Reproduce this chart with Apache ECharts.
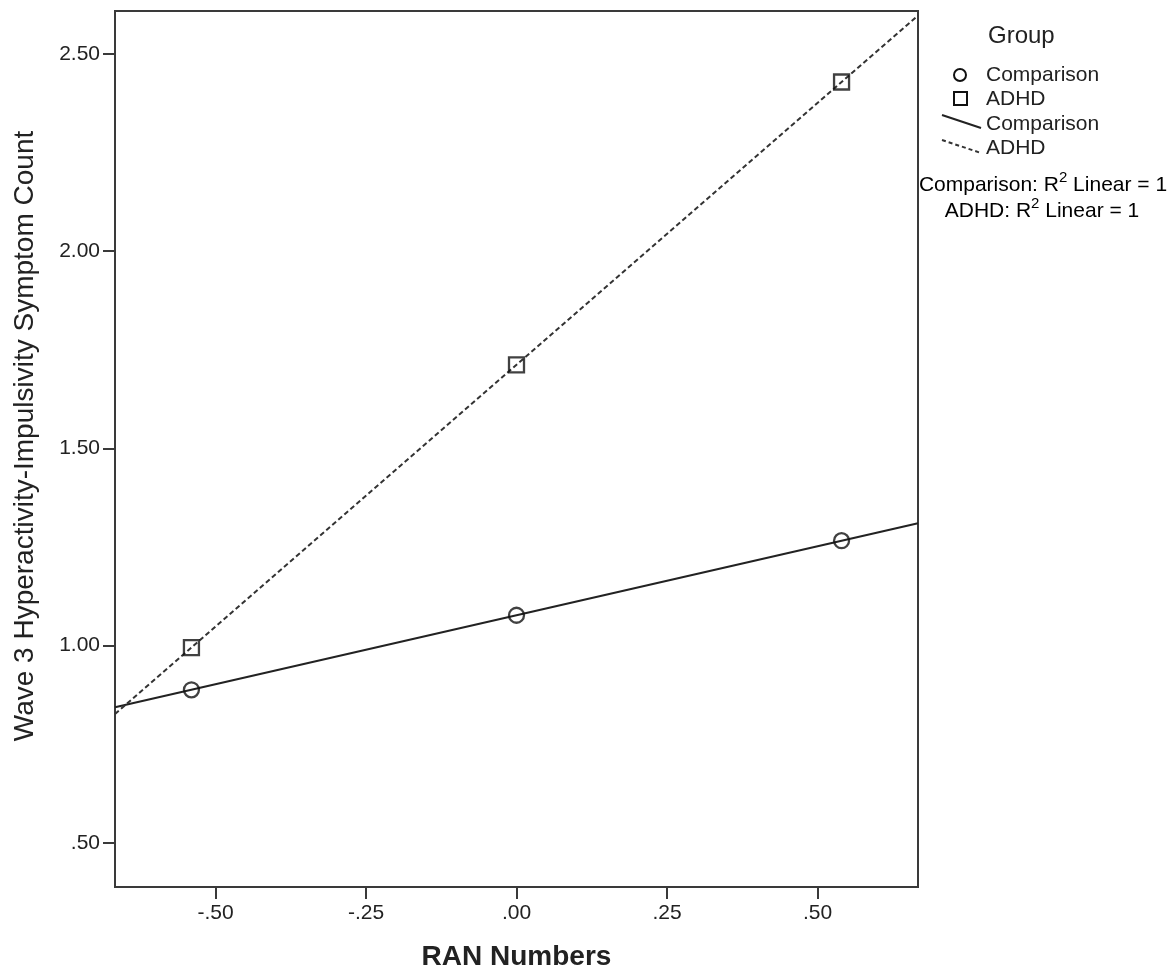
<!DOCTYPE html>
<html>
<head>
<meta charset="utf-8">
<script src="https://cdn.jsdelivr.net/npm/echarts@6/dist/echarts.min.js"></script>
<style>
  html, body { margin: 0; padding: 0; background: #fff; }
  #chart { width: 1172px; height: 969px; }
</style>
</head>
<body>
<div id="chart"></div>
<script>
// RAN Numbers (x) for each group's three points
const ranValues = [-0.54, 0.00, 0.54];
// Wave 3 hyperactivity-impulsivity symptom count per group
const comparisonCounts = [0.888, 1.077, 1.266];
const adhdCounts = [0.995, 1.712, 2.429];
// Axis ranges and tick positions
const xRange = [-0.667, 0.667];
const yRange = [0.388, 2.609];
const xTicks = [-0.50, -0.25, 0.00, 0.25, 0.50];
const yTicks = [0.50, 1.00, 1.50, 2.00, 2.50];

const FONT = '"Liberation Sans", Arial, sans-serif';
const INK = '#222';
const MARK = '#111';
const AXIS = '#3a3a3a';

// SPSS-style number format: ".50", "-.25", "2.00"
function fmt(v) {
  let s = Math.abs(v).toFixed(2);
  if (s.startsWith('0')) s = s.slice(1);
  return (v < 0 ? '-' : '') + s;
}

// Least-squares linear fit, evaluated across the whole x range
function fitLine(xs, ys) {
  const n = xs.length;
  const mx = xs.reduce((a, b) => a + b, 0) / n;
  const my = ys.reduce((a, b) => a + b, 0) / n;
  let sxy = 0, sxx = 0;
  for (let i = 0; i < n; i++) {
    sxy += (xs[i] - mx) * (ys[i] - my);
    sxx += (xs[i] - mx) * (xs[i] - mx);
  }
  const b = sxy / sxx, a = my - b * mx;
  return xRange.map(x => [x, a + b * x]);
}

const chart = echarts.init(document.getElementById('chart'));

const option = {
  backgroundColor: '#fff',
  animation: false,
  grid: {
    left: 115, right: 254, top: 11, bottom: 82,
    outerBoundsMode: 'none',
    containLabel: false,
    show: true, borderColor: AXIS, borderWidth: 2, backgroundColor: 'transparent'
  },
  xAxis: {
    type: 'value',
    min: xRange[0], max: xRange[1],
    name: 'RAN Numbers',
    nameLocation: 'middle',
    nameGap: 56,
    nameTextStyle: { fontFamily: FONT, fontSize: 28, fontWeight: 'bold', color: INK },
    axisLine: { show: true, onZero: false, lineStyle: { color: AXIS, width: 2 } },
    axisTick: { show: true, length: 12, lineStyle: { color: AXIS, width: 2 }, customValues: xTicks },
    axisLabel: {
      customValues: xTicks, formatter: fmt, margin: 16,
      fontFamily: FONT, fontSize: 21, color: INK
    },
    splitLine: { show: false }
  },
  yAxis: {
    type: 'value',
    min: yRange[0], max: yRange[1],
    name: 'Wave 3 Hyperactivity-Impulsivity Symptom Count',
    nameLocation: 'middle',
    nameGap: 76,
    nameTextStyle: { fontFamily: FONT, fontSize: 28, color: INK, padding: [0, 0, 0, 26] },
    axisLine: { show: true, onZero: false, lineStyle: { color: AXIS, width: 2 } },
    axisTick: { show: true, length: 12, lineStyle: { color: AXIS, width: 2 }, customValues: yTicks },
    axisLabel: {
      customValues: yTicks, formatter: fmt, margin: 15,
      fontFamily: FONT, fontSize: 21, color: INK
    },
    splitLine: { show: false }
  },
  series: [
    {
      name: 'Comparison fit', type: 'line', z: 2,
      data: fitLine(ranValues, comparisonCounts),
      showSymbol: false,
      lineStyle: { color: INK, width: 2 }
    },
    {
      name: 'ADHD fit', type: 'line', z: 2,
      data: fitLine(ranValues, adhdCounts),
      showSymbol: false,
      lineStyle: { color: '#333', width: 2, type: [5, 3] }
    },
    {
      name: 'Comparison', type: 'scatter', z: 3,
      data: ranValues.map((x, i) => [x, comparisonCounts[i]]),
      symbol: 'circle', symbolSize: 15,
      itemStyle: { color: 'rgba(0,0,0,0)', borderColor: MARK, borderWidth: 2.3 }
    },
    {
      name: 'ADHD', type: 'scatter', z: 3,
      data: ranValues.map((x, i) => [x, adhdCounts[i]]),
      symbol: 'rect', symbolSize: 15,
      itemStyle: { color: 'rgba(0,0,0,0)', borderColor: MARK, borderWidth: 2.3 }
    }
  ],
  graphic: [
    { type: 'text', left: 988, top: 24, style: { text: 'Group', font: '24px ' + FONT, fill: INK } },
    { type: 'circle', shape: { cx: 960, cy: 75, r: 6 }, style: { fill: 'none', stroke: MARK, lineWidth: 2 } },
    { type: 'text', x: 986, y: 75, style: { text: 'Comparison', font: '21px ' + FONT, fill: INK, verticalAlign: 'middle' } },
    { type: 'rect', shape: { x: 954, y: 92, width: 13, height: 13 }, style: { fill: 'none', stroke: MARK, lineWidth: 2 } },
    { type: 'text', x: 986, y: 99, style: { text: 'ADHD', font: '21px ' + FONT, fill: INK, verticalAlign: 'middle' } },
    { type: 'line', shape: { x1: 942, y1: 115, x2: 981, y2: 128 }, style: { stroke: INK, lineWidth: 2 } },
    { type: 'text', x: 986, y: 124, style: { text: 'Comparison', font: '21px ' + FONT, fill: INK, verticalAlign: 'middle' } },
    { type: 'line', shape: { x1: 942, y1: 140, x2: 981, y2: 153 }, style: { stroke: '#333', lineWidth: 2, lineDash: [4, 3] } },
    { type: 'text', x: 986, y: 148, style: { text: 'ADHD', font: '21px ' + FONT, fill: INK, verticalAlign: 'middle' } },
    {
      type: 'text', x: 1043, y: 183,
      style: {
        text: '{t|Comparison: R}{s|2}{t| Linear = 1}',
        align: 'center', verticalAlign: 'middle',
        rich: {
          t: { fontFamily: FONT, fontSize: 21, color: INK, lineHeight: 26, verticalAlign: 'bottom' },
          s: { fontFamily: FONT, fontSize: 15, color: INK, lineHeight: 26, verticalAlign: 'top' }
        }
      }
    },
    {
      type: 'text', x: 1042, y: 209,
      style: {
        text: '{t|ADHD: R}{s|2}{t| Linear = 1}',
        align: 'center', verticalAlign: 'middle',
        rich: {
          t: { fontFamily: FONT, fontSize: 21, color: INK, lineHeight: 26, verticalAlign: 'bottom' },
          s: { fontFamily: FONT, fontSize: 15, color: INK, lineHeight: 26, verticalAlign: 'top' }
        }
      }
    }
  ]
};

chart.setOption(option);
</script>
</body>
</html>
